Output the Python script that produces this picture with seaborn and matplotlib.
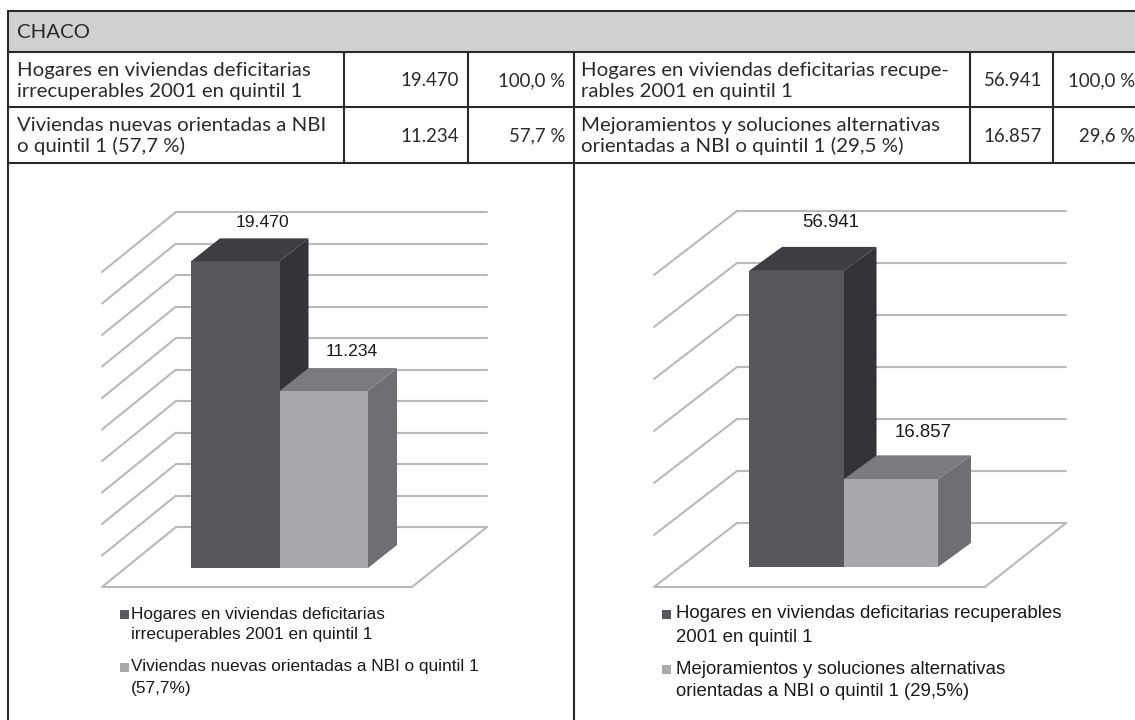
import matplotlib
matplotlib.use("Agg")
import matplotlib.pyplot as plt
import seaborn as sns

FIG_W = 1135
FIG_H = 720

TITLE = "CHACO"

# table cells
ROW_1_LEFT = "Hogares en viviendas deficitarias\nirrecuperables 2001 en quintil 1"
ROW_2_LEFT = "Viviendas nuevas orientadas a NBI\no quintil 1 (57,7 %)"
ROW_1_RIGHT = "Hogares en viviendas deficitarias recupe-\nrables 2001 en quintil 1"
ROW_2_RIGHT = "Mejoramientos y soluciones alternativas\norientadas a NBI o quintil 1 (29,5 %)"
COUNTS_LEFT = ["19.470", "11.234"]
SHARES_LEFT = ["100,0 %", "57,7 %"]
COUNTS_RIGHT = ["56.941", "16.857"]
SHARES_RIGHT = ["100,0 %", "29,6 %"]

# chart data
CATEGORIES_LEFT = ["Hogares irrecuperables", "Viviendas nuevas"]
VALUES_LEFT = [19470, 11234]
TICKS_LEFT = [0, 2000, 4000, 6000, 8000, 10000, 12000, 14000, 16000, 18000, 20000]
CATEGORIES_RIGHT = ["Hogares recuperables", "Mejoramientos"]
VALUES_RIGHT = [56941, 16857]
TICKS_RIGHT = [0, 10000, 20000, 30000, 40000, 50000, 60000]

LEGEND_LEFT = [
    "Hogares en viviendas deficitarias\nirrecuperables 2001 en quintil 1",
    "Viviendas nuevas orientadas a NBI o quintil 1\n(57,7%)",
]
LEGEND_RIGHT = [
    "Hogares en viviendas deficitarias recuperables\n2001 en quintil 1",
    "Mejoramientos y soluciones alternativas\norientadas a NBI o quintil 1 (29,5%)",
]

FRONT = ["#58575c", "#a9a8ad"]
TOP = ["#3e3d42", "#7b7a7f"]
SIDE = ["#333236", "#6f6e73"]
GRID = "#b9b9bc"
RULE = "#2b2a29"

# pixel geometry of each chart
GEOM_LEFT = dict(
    panel=(95, 495, 205, 595), bar_x0=191, bar_w=88.5, base_y=568, px_per_unit=315 / 20000,
    depth=(29, 23), wall=(176, 487), wall_dy=41, side=(74, 60), floor_right=412,
    label_off=[(27, 39), (28, 40)], label_size=12.6,
)
GEOM_RIGHT = dict(
    panel=(645, 1075, 205, 595), bar_x0=749, bar_w=94.5, base_y=567, px_per_unit=312 / 60000,
    depth=(33, 24), wall=(737, 1066), wall_dy=44, side=(83, 64), floor_right=985,
    label_off=[(34, 48), (32, 47)], label_size=13.4,
)


def draw_table(page):
    page.fill_between([8, FIG_W], 11, 52, color="#cfd0d2", lw=0)
    lw = 1.5
    for y in [11, 52, 107, 163]:
        page.plot([8, FIG_W], [y, y], color=RULE, lw=lw)
    page.plot([8, 8], [11, FIG_H], color=RULE, lw=lw)
    page.plot([574, 574], [52, FIG_H], color=RULE, lw=lw)
    for x in [344, 468, 970, 1053]:
        page.plot([x, x], [52, 163], color=RULE, lw=lw)

    style = dict(family="Lato", color="#2b2a29", fontsize=14.7)
    page.text(17, 32, TITLE, va="center", **style)
    multi = dict(va="center", linespacing=1.22, **style)
    page.text(17, 81, ROW_1_LEFT, **multi)
    page.text(17, 136, ROW_2_LEFT, **multi)
    page.text(581, 81, ROW_1_RIGHT, **multi)
    page.text(581, 136, ROW_2_RIGHT, **multi)

    number = dict(family="Lato", color="#2b2a29", fontsize=13.4, ha="right", va="center")
    for y, a, b, c, d in zip([81, 136], COUNTS_LEFT, SHARES_LEFT, COUNTS_RIGHT, SHARES_RIGHT):
        page.text(459, y, a, **number)
        page.text(565, y, b, **number)
        page.text(1042, y, c, **number)
        page.text(1135, y, d, **number)


def draw_legend(page, labels, square_x, text_x, ys, gap, size):
    style = dict(family="Liberation Sans", color="#1a1a1a", fontsize=size)
    for i, (label, y) in enumerate(zip(labels, ys)):
        first, second = label.split("\n")
        page.fill_between([square_x, square_x + 9], y - 4.5, y + 4.5, color=FRONT[i], lw=0)
        page.text(text_x, y, first, va="center", **style)
        page.text(text_x, y + gap, second, va="center", **style)


def draw_chart(fig, categories, values, ticks, geom):
    xl, xr, yt, yb = geom["panel"]
    ax = fig.add_axes([xl / FIG_W, 1 - yb / FIG_H, (xr - xl) / FIG_W, (yb - yt) / FIG_H])
    ax.patch.set_alpha(0)

    sns.barplot(x=categories, y=values, hue=categories, palette=FRONT, width=1.0,
                saturation=1, legend=False, linewidth=0, ax=ax, zorder=4)

    cw = geom["bar_w"]
    k = geom["px_per_unit"]
    ax.set_xlim((xl - geom["bar_x0"]) / cw - 0.5, (xr - geom["bar_x0"]) / cw - 0.5)
    ax.set_ylim((geom["base_y"] - yb) / k, (geom["base_y"] - yt) / k)
    ax.axis("off")

    # pixel offsets into data units
    def data_x(px):
        return (px - geom["bar_x0"]) / cw - 0.5

    def du(py):
        return py / k

    wall_l, wall_r = geom["wall"]
    wall_up = du(geom["wall_dy"])
    side_dx, side_dy = geom["side"]

    for t in ticks:
        y = t + wall_up
        ax.plot([data_x(wall_l), data_x(wall_r)], [y, y], color=GRID, lw=1.5, zorder=1)
        if t > 0:
            ax.plot([data_x(wall_l), data_x(wall_l - side_dx)], [y, y - du(side_dy)],
                    color=GRID, lw=1.5, zorder=1)

    # floor outline
    floor_y = wall_up - du(side_dy)
    ax.plot([data_x(wall_l), data_x(wall_l - side_dx), data_x(geom["floor_right"]), data_x(wall_r)],
            [wall_up, floor_y, floor_y, wall_up], color=GRID, lw=1.5, zorder=1)

    ddx = geom["depth"][0] / cw
    ddy = du(geom["depth"][1])
    for i, bar in enumerate(ax.patches):
        x0 = bar.get_x()
        x1 = x0 + bar.get_width()
        h = bar.get_height()
        ax.fill([x1, x1 + ddx, x1 + ddx, x1], [0, ddy, h + ddy, h], color=SIDE[i], lw=0, zorder=3 - i * 0.5)
        ax.fill([x0, x1, x1 + ddx, x0 + ddx], [h, h, h + ddy, h + ddy], color=TOP[i], lw=0, zorder=3 - i * 0.5 + 1)
        off_x, off_y = geom["label_off"][i]
        ax.text((x0 + x1) / 2 + off_x / cw, h + du(off_y), f"{values[i]:,}".replace(",", "."),
                ha="center", va="center", family="Liberation Sans", fontsize=geom["label_size"],
                color="#1a1a1a", zorder=6)
    return ax


def main():
    sns.set_theme(style="white")
    fig = plt.figure(figsize=(FIG_W / 100, FIG_H / 100), dpi=100, facecolor="white")

    page = fig.add_axes([0, 0, 1, 1])
    page.set_xlim(0, FIG_W)
    page.set_ylim(FIG_H, 0)
    page.axis("off")

    draw_table(page)
    draw_chart(fig, CATEGORIES_LEFT, VALUES_LEFT, TICKS_LEFT, GEOM_LEFT)
    draw_chart(fig, CATEGORIES_RIGHT, VALUES_RIGHT, TICKS_RIGHT, GEOM_RIGHT)
    draw_legend(page, LEGEND_LEFT, 120, 131, [614, 667], 21, 12.4)
    draw_legend(page, LEGEND_RIGHT, 662, 676, [614, 669], 23, 13.4)

    fig.savefig("out.png", dpi=100)
    plt.close(fig)


if __name__ == "__main__":
    main()
